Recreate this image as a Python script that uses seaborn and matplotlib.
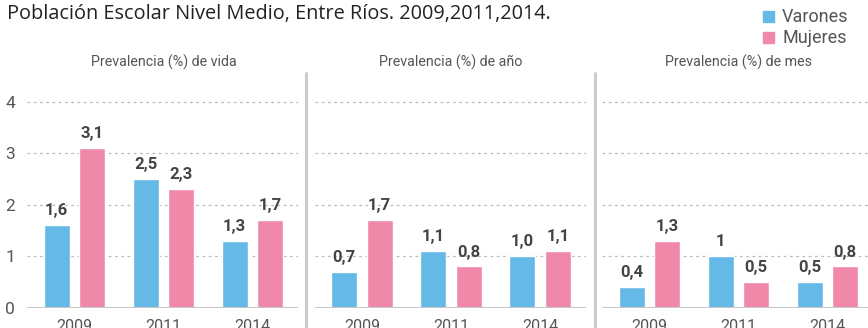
import matplotlib
matplotlib.use("Agg")
import matplotlib.pyplot as plt
from matplotlib.lines import Line2D
import pandas as pd
import seaborn as sns

# Survey years
years = ["2009", "2011", "2014"]

# Prevalence (%) by sex
varones_vida = [1.6, 2.5, 1.3]
mujeres_vida = [3.1, 2.3, 1.7]
varones_anio = [0.7, 1.1, 1.0]
mujeres_anio = [1.7, 0.8, 1.1]
varones_mes = [0.4, 1, 0.5]
mujeres_mes = [1.3, 0.5, 0.8]

panel_titles = ["Prevalencia (%) de vida", "Prevalencia (%) de año", "Prevalencia (%) de mes"]
sexes = ["Varones", "Mujeres"]
y_ticks = [0, 1, 2, 3, 4]

title = "Población Escolar Nivel Medio, Entre Ríos. 2009,2011,2014."

colors = {"Varones": "#65b9e6", "Mujeres": "#f089a9"}
TEXT = "#555555"
VALUE = "#444444"

sns.set_theme(style="white")
plt.rcParams["font.family"] = ["Roboto", "DejaVu Sans"]

W, H = 868, 328
fig = plt.figure(figsize=(W / 100, H / 100), dpi=100)

panels = [
    (varones_vida, mujeres_vida),
    (varones_anio, mujeres_anio),
    (varones_mes, mujeres_mes),
]
lefts_px = [27, 314.5, 602]
ax_w_px = 271
y0_px = 307.7
unit_px = 51.55
ymax = 4.4
ax_h_px = ymax * unit_px
group_px = 89.0
xmin = -47.5 / group_px
xmax = xmin + ax_w_px / group_px


def fmt(v):
    return str(v).replace(".", ",")


for i, ((var, muj), ptitle) in enumerate(zip(panels, panel_titles)):
    ax = fig.add_axes([lefts_px[i] / W, (H - y0_px) / H, ax_w_px / W, ax_h_px / H])
    df = pd.DataFrame({
        "year": years * 2,
        "sexo": [sexes[0]] * 3 + [sexes[1]] * 3,
        "valor": list(var) + list(muj),
    })
    sns.barplot(data=df, x="year", y="valor", hue="sexo", hue_order=sexes,
                order=years, palette=colors, width=0.8, gap=0.26,
                saturation=1, legend=False, ax=ax, zorder=3)
    for cont, vals in zip(ax.containers, [var, muj]):
        ax.bar_label(cont, labels=[fmt(v) for v in vals], padding=5,
                     fontsize=12, fontweight="bold", color=VALUE)
    ax.set_xlim(xmin, xmax)
    ax.set_ylim(0, ymax)
    ax.set_yticks(y_ticks)
    for yv in y_ticks[1:]:
        ax.axhline(yv, color="#bbbbbb", lw=0.9, ls=(0, (2.2, 2.8)), zorder=1)
    ax.axhline(0, color="#c8c8c8", lw=2.2, zorder=4)
    for s in ax.spines.values():
        s.set_visible(False)
    ax.set_xlabel("")
    ax.set_ylabel("")
    ax.tick_params(axis="x", length=0, pad=8, labelsize=11.5, labelcolor=TEXT)
    if i == 0:
        ax.tick_params(axis="y", length=0, labelsize=12.5, labelcolor=TEXT)
        for lab in ax.get_yticklabels():
            lab.set_horizontalalignment("center")
        ax.tick_params(axis="y", pad=12)
    else:
        ax.set_yticklabels([])
        ax.tick_params(axis="y", length=0)
    cx = (lefts_px[i] + 47.5 + group_px) / W
    fig.text(cx, 1 - 62 / H, ptitle, ha="center", va="center",
             fontsize=10.3, color=TEXT)

# Vertical separators between panels
for xp in [305.5, 594.5]:
    fig.add_artist(Line2D([xp / W, xp / W], [0, 1 - 73 / H],
                          color="#cccccc", lw=2.2))

fig.text(7 / W, 1 - 14 / H, title, ha="left", va="center",
         fontsize=14.3, color="#222222", family=["Open Sans", "DejaVu Sans"])

# Legend
for j, s in enumerate(sexes):
    yc = 1 - (17 + j * 21) / H
    fig.add_artist(plt.Rectangle((763 / W, yc - 5 / H), 11 / W, 11 / H,
                                 color=colors[s], transform=fig.transFigure))
    fig.text(782 / W, yc, s, ha="left", va="center", fontsize=13, color=TEXT)

fig.savefig("out.png", dpi=100)
